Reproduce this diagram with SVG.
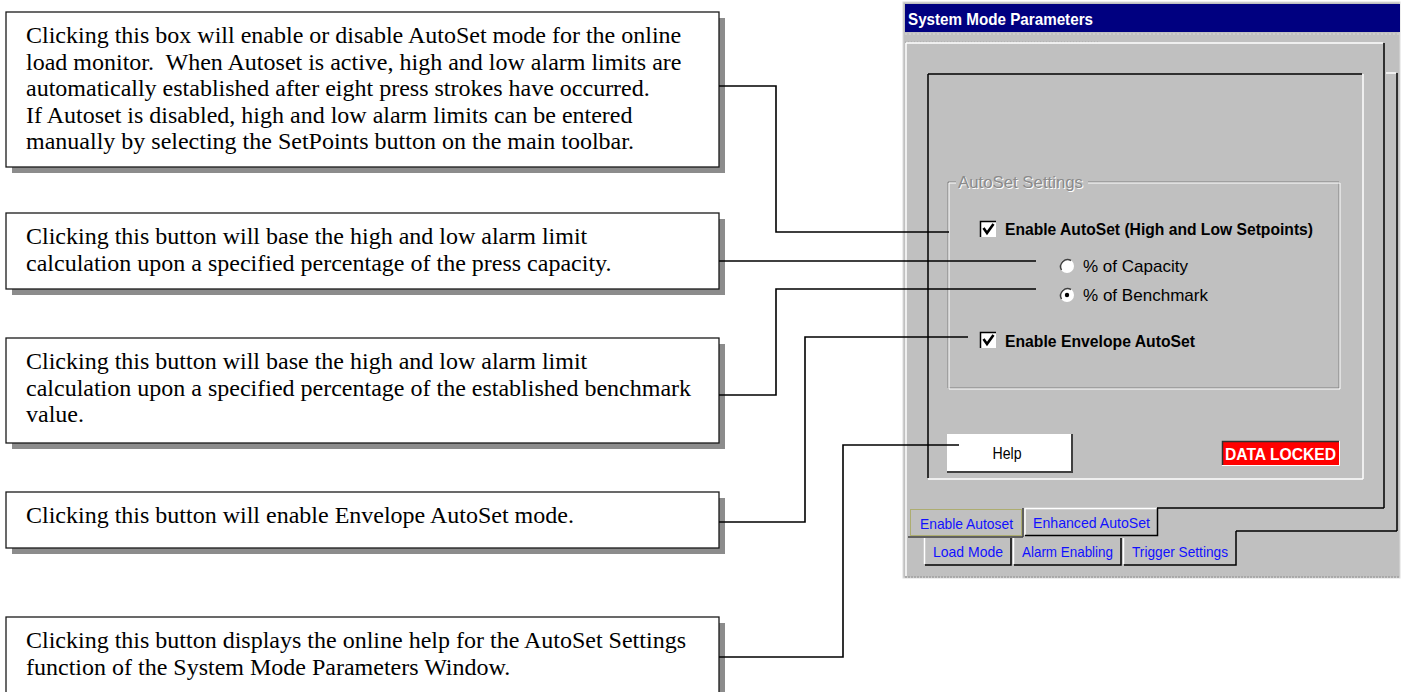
<svg xmlns="http://www.w3.org/2000/svg" width="1401" height="692" viewBox="0 0 1401 692">
  <style>
    .note { fill: #ffffff; stroke: #1a1a1a; stroke-width: 1.3; }
    .shadow { fill: #8c8c8c; }
    .ntext { font-family: "Liberation Serif", "Times New Roman", serif; font-size: 24px; fill: #000; }
    .wire { fill: none; stroke: #000; stroke-width: 1.6; }
    .ui { font-family: "Liberation Sans", Arial, sans-serif; }
    .lbl { font-family: "Liberation Sans", Arial, sans-serif; font-size: 16.5px; font-weight: bold; fill: #000; }
    .opt { font-family: "Liberation Sans", Arial, sans-serif; font-size: 17px; fill: #000; }
    .tab { font-family: "Liberation Sans", Arial, sans-serif; font-size: 15px; fill: #1010ff; }
    .hi { stroke: #ffffff; stroke-width: 1.5; fill: none; }
    .dk { stroke: #000000; stroke-width: 1.5; fill: none; }
    .md { stroke: #808080; stroke-width: 1; fill: none; }
  </style>

  <rect x="0" y="0" width="1401" height="692" fill="#ffffff"/>

  <!-- System Mode Parameters window -->
  <g id="window">
    <rect x="903" y="2" width="497" height="576" fill="#c0c0c0" stroke="#dcdcdc" stroke-width="1"/>
    <rect x="905" y="4" width="495" height="28" fill="#000080"/>
    <text x="908" y="25" class="ui" font-size="17" font-weight="bold" fill="#ffffff" textLength="185" lengthAdjust="spacingAndGlyphs">System Mode Parameters</text>
    <line x1="905" y1="34" x2="1400" y2="34" stroke="#d8d8d8" stroke-width="1" stroke-dasharray="2,2"/>
    <line x1="905" y1="42" x2="1100" y2="42" stroke="#a8a8a8" stroke-width="1" stroke-dasharray="1,2"/>
    <line x1="905" y1="577" x2="1400" y2="577" stroke="#a0a0a0" stroke-width="1.5" stroke-dasharray="2,1"/>

    <!-- rear tab page edge -->
    <line x1="1386" y1="73" x2="1396" y2="73" class="hi"/>
    <line x1="1397" y1="73" x2="1397" y2="531" class="dk"/>
    <line x1="1236" y1="531" x2="1397" y2="531" class="dk"/>

    <!-- front tab page -->
    <line x1="906" y1="43" x2="1383" y2="43" class="hi"/>
    <line x1="906" y1="43" x2="906" y2="576" class="hi"/>
    <line x1="1384" y1="43" x2="1384" y2="508" class="dk"/>
    <line x1="1157" y1="508" x2="1384" y2="508" class="dk"/>

    <!-- inner sunken frame -->
    <line x1="928" y1="74" x2="1362" y2="74" class="dk"/>
    <line x1="928" y1="74" x2="928" y2="478" class="dk"/>
    <line x1="928" y1="479" x2="1363" y2="479" class="hi"/>
    <line x1="1363" y1="74" x2="1363" y2="479" class="hi"/>
  </g>

  <g id="autoset-group">
    <path d="M956,182 H948 V388 H1339 V182 H1088" class="md"/>
    <path d="M956,183 H949 V389 H1340 V183 H1088" fill="none" stroke="#ffffff" stroke-width="1"/>
    <text x="959" y="189" class="ui" font-size="16" fill="#ffffff" textLength="125" lengthAdjust="spacingAndGlyphs">AutoSet Settings</text>
    <text x="958" y="188" class="ui" font-size="16" fill="#8a8a8a" textLength="125" lengthAdjust="spacingAndGlyphs">AutoSet Settings</text>
  </g>

  <g id="enable-autoset">
    <rect x="980" y="221" width="16" height="16" fill="#ffffff"/>
    <path d="M980.5,237 V221.5 H996" fill="none" stroke="#000" stroke-width="1.5"/>
    <path d="M983.5,228 L987,233 L993.5,224" fill="none" stroke="#000" stroke-width="2.6"/>
    <text x="1005" y="235" class="lbl" textLength="308" lengthAdjust="spacingAndGlyphs">Enable AutoSet (High and Low Setpoints)</text>
  </g>

  <g id="pct-capacity">
    <circle cx="1067" cy="266" r="7" fill="#ffffff"/>
    <path d="M1061.5,270 A7,7 0 0 1 1071,260.5" fill="none" stroke="#404040" stroke-width="1.5"/>
    <text x="1083" y="272" class="opt" textLength="105" lengthAdjust="spacingAndGlyphs">% of Capacity</text>
  </g>

  <g id="pct-benchmark">
    <circle cx="1067" cy="295" r="7" fill="#ffffff"/>
    <path d="M1061.5,299 A7,7 0 0 1 1071,289.5" fill="none" stroke="#404040" stroke-width="1.5"/>
    <circle cx="1067" cy="295" r="2.2" fill="#000"/>
    <text x="1083" y="301" class="opt" textLength="125" lengthAdjust="spacingAndGlyphs">% of Benchmark</text>
  </g>

  <g id="enable-envelope">
    <rect x="980" y="332" width="16" height="16" fill="#ffffff"/>
    <path d="M980.5,348 V332.5 H996" fill="none" stroke="#000" stroke-width="1.5"/>
    <path d="M983.5,339 L987,344 L993.5,335" fill="none" stroke="#000" stroke-width="2.6"/>
    <text x="1005" y="347" class="lbl" textLength="190" lengthAdjust="spacingAndGlyphs">Enable Envelope AutoSet</text>
  </g>

  <g id="help-button">
    <rect x="947" y="434" width="125" height="38" fill="#ffffff"/>
    <line x1="947" y1="472" x2="1072" y2="472" stroke="#404040" stroke-width="2"/>
    <line x1="1072" y1="434" x2="1072" y2="473" stroke="#404040" stroke-width="2"/>
    <text x="1007" y="459" class="ui" font-size="16" fill="#000" text-anchor="middle" textLength="29" lengthAdjust="spacingAndGlyphs">Help</text>
  </g>

  <g id="data-locked">
    <rect x="1222" y="441" width="117" height="24" fill="#ff0000"/>
    <path d="M1222.5,465 V441.5 H1339" fill="none" stroke="#303030" stroke-width="1.5"/>
    <path d="M1222,465.5 H1339.5 V441" fill="none" stroke="#ffffff" stroke-width="1"/>
    <text x="1225" y="460" class="ui" font-size="16" font-weight="bold" fill="#ffffff" textLength="111" lengthAdjust="spacingAndGlyphs">DATA LOCKED</text>
  </g>

  <g id="tabs">
    <!-- selected tab -->
    <line x1="908" y1="537" x2="1023" y2="537" stroke="#404040" stroke-width="1.5"/>
    <line x1="1023" y1="508" x2="1023" y2="537" stroke="#404040" stroke-width="1.5"/>
    <rect x="910.5" y="509.5" width="111" height="26" fill="none" stroke="#9a9a20" stroke-width="1" stroke-dasharray="1,1"/>
    <text x="920" y="529" class="tab" textLength="93" lengthAdjust="spacingAndGlyphs">Enable Autoset</text>
    <!-- Enhanced AutoSet -->
    <path d="M1025,535 V508.5 H1157" class="hi"/>
    <path d="M1025,535.5 H1157.5 V508" class="dk"/>
    <text x="1033" y="528" class="tab" textLength="117" lengthAdjust="spacingAndGlyphs">Enhanced AutoSet</text>
    <!-- second row -->
    <line x1="924.5" y1="538" x2="924.5" y2="564" class="hi"/>
    <path d="M925,565 H1011 V538" class="dk"/>
    <text x="933" y="557" class="tab" textLength="70" lengthAdjust="spacingAndGlyphs">Load Mode</text>
    <line x1="1013.5" y1="538" x2="1013.5" y2="564" class="hi"/>
    <path d="M1014,565 H1121 V538" class="dk"/>
    <text x="1022" y="557" class="tab" textLength="91" lengthAdjust="spacingAndGlyphs">Alarm Enabling</text>
    <line x1="1123.5" y1="538" x2="1123.5" y2="564" class="hi"/>
    <path d="M1124,565 H1236 V531" class="dk"/>
    <text x="1132" y="557" class="tab" textLength="96" lengthAdjust="spacingAndGlyphs">Trigger Settings</text>
  </g>

  <!-- callout notes -->
  <g id="note-autoset">
    <rect x="12" y="18" width="713" height="155" class="shadow"/>
    <rect x="6" y="12" width="713" height="155" class="note"/>
    <text class="ntext">
      <tspan x="26" y="43">Clicking this box will enable or disable AutoSet mode for the online</tspan>
      <tspan x="26" y="69.5">load monitor.&#160; When Autoset is active, high and low alarm limits are</tspan>
      <tspan x="26" y="96">automatically established after eight press strokes have occurred.</tspan>
      <tspan x="26" y="122.5">If Autoset is disabled, high and low alarm limits can be entered</tspan>
      <tspan x="26" y="149">manually by selecting the SetPoints button on the main toolbar.</tspan>
    </text>
  </g>

  <g id="note-capacity">
    <rect x="12" y="219" width="713" height="76" class="shadow"/>
    <rect x="6" y="213" width="713" height="76" class="note"/>
    <text class="ntext">
      <tspan x="26" y="244">Clicking this button will base the high and low alarm limit</tspan>
      <tspan x="26" y="270.5">calculation upon a specified percentage of the press capacity.</tspan>
    </text>
  </g>

  <g id="note-benchmark">
    <rect x="12" y="344" width="713" height="105" class="shadow"/>
    <rect x="6" y="338" width="713" height="105" class="note"/>
    <text class="ntext">
      <tspan x="26" y="369">Clicking this button will base the high and low alarm limit</tspan>
      <tspan x="26" y="395.5">calculation upon a specified percentage of the established benchmark</tspan>
      <tspan x="26" y="422">value.</tspan>
    </text>
  </g>

  <g id="note-envelope">
    <rect x="12" y="498" width="713" height="56" class="shadow"/>
    <rect x="6" y="492" width="713" height="56" class="note"/>
    <text class="ntext">
      <tspan x="26" y="523">Clicking this button will enable Envelope AutoSet mode.</tspan>
    </text>
  </g>

  <g id="note-help">
    <rect x="12" y="623" width="713" height="90" class="shadow"/>
    <rect x="6" y="617" width="713" height="90" class="note"/>
    <text class="ntext">
      <tspan x="26" y="648">Clicking this button displays the online help for the AutoSet Settings</tspan>
      <tspan x="26" y="674.5">function of the System Mode Parameters Window.</tspan>
    </text>
  </g>

  <!-- leader lines from notes to controls -->
  <g id="connectors">
    <polyline class="wire" points="719,86 776,86 776,232 949,232"/>
    <polyline class="wire" points="719,261 1036,261"/>
    <polyline class="wire" points="719,395 776,395 776,289 1036,289"/>
    <polyline class="wire" points="719,522 805,522 805,337 968,337"/>
    <polyline class="wire" points="719,657 843,657 843,445 959,445"/>
  </g>
</svg>
